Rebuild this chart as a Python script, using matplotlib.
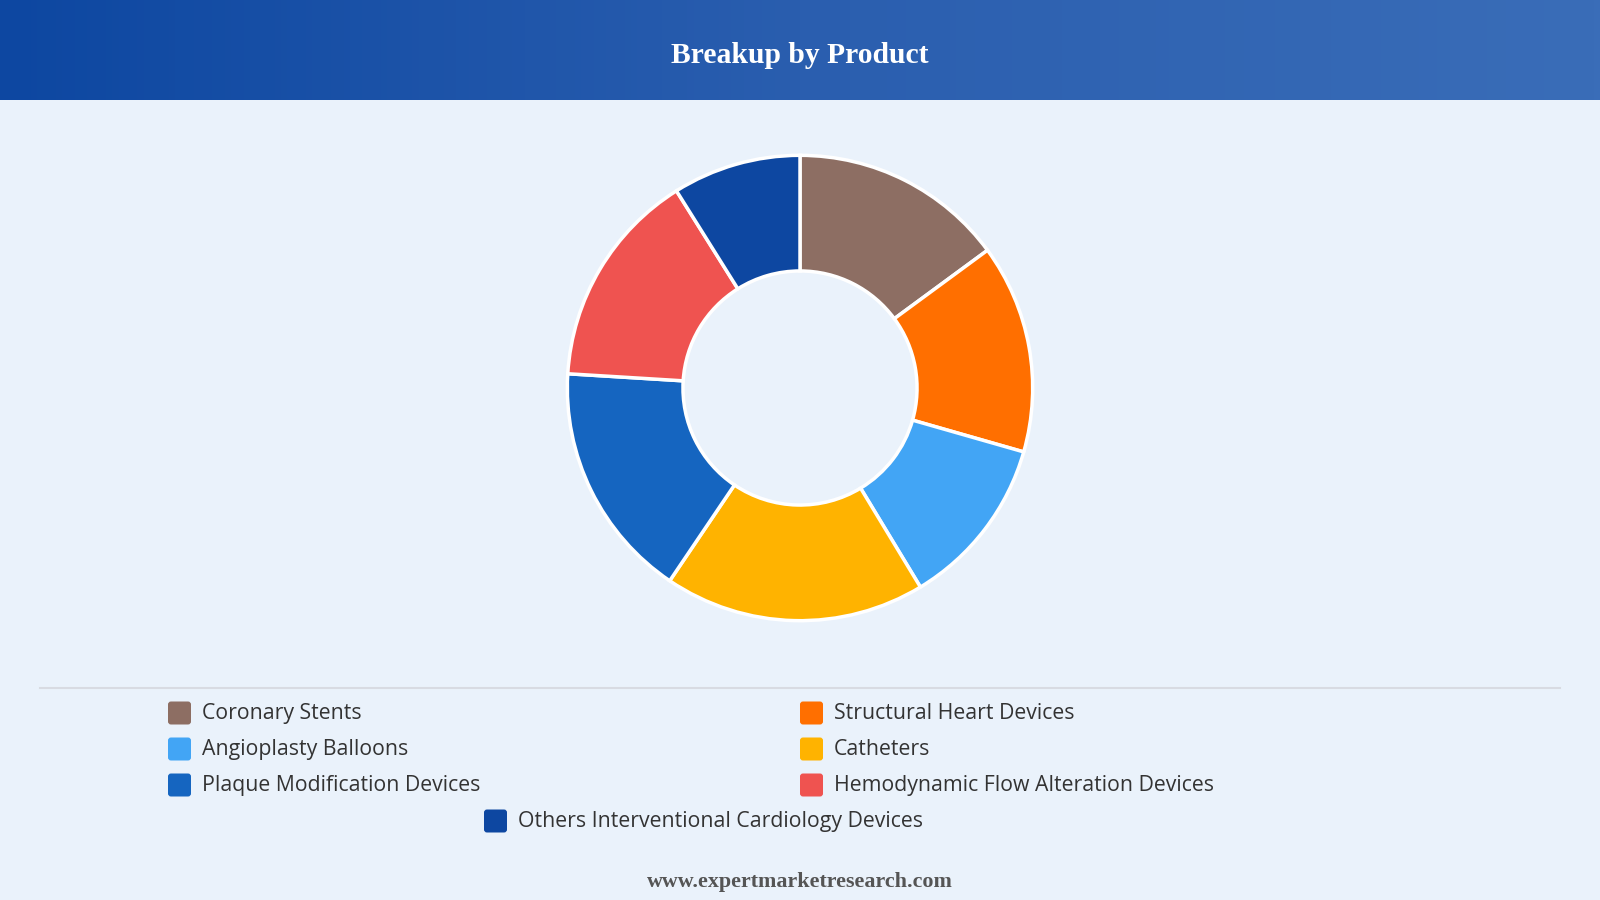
import numpy as np
import matplotlib
matplotlib.use("Agg")
import matplotlib.pyplot as plt
from matplotlib.patches import FancyBboxPatch
from matplotlib.colors import LinearSegmentedColormap

categories = ["Coronary Stents", "Structural Heart Devices", "Angioplasty Balloons",
              "Catheters", "Plaque Modification Devices",
              "Hemodynamic Flow Alteration Devices",
              "Others Interventional Cardiology Devices"]
values = [14.9, 14.5, 11.9, 18.1, 16.5, 15.1, 8.9]
colors = ["#8D6E63", "#FF6F00", "#42A5F5", "#FFB300", "#1565C0", "#EF5350", "#0D47A1"]
title = "Breakup by Product"
footer = "www.expertmarketresearch.com"

W, H = 1600, 900
BG = "#EAF2FB"
fig = plt.figure(figsize=(16, 9), dpi=100, facecolor=BG)

# header gradient
hax = fig.add_axes([0, 1 - 100 / H, 1, 100 / H])
grad = np.linspace(0, 1, 512).reshape(1, -1)
cmap = LinearSegmentedColormap.from_list("hdr", ["#0D47A1", "#2A5EAF", "#3A6DB8"])
hax.imshow(grad, aspect="auto", cmap=cmap, extent=[0, 1, 0, 1])
hax.set_axis_off()
hax.text(0.5, 0.445, title, ha="center", va="center", color="white",
         fontsize=21.3, fontweight="bold", family="Liberation Serif",
         transform=hax.transAxes)

# donut
cx, cy, R = 800, 388, 235
pax = fig.add_axes([(cx - R) / W, (H - cy - R) / H, 2 * R / W, 2 * R / H])
pax.pie(values, colors=colors, startangle=90, counterclock=False, radius=1,
        wedgeprops=dict(width=0.497, edgecolor="white", linewidth=2.5))
pax.set_xlim(-1.01, 1.01)
pax.set_ylim(-1.01, 1.01)
pax.set_aspect("equal")
pax.set_axis_off()

# overlay for legend/footer
oax = fig.add_axes([0, 0, 1, 1], facecolor="none")
oax.set_xlim(0, W)
oax.set_ylim(H, 0)
oax.set_axis_off()
oax.plot([40, 1560], [688, 688], color="#D8DBE2", lw=1.5)

positions = [(168, 713), (800, 713), (168, 749), (800, 749),
             (168, 785), (800, 785), (484, 821)]
for (x, y), lab, c in zip(positions, categories, colors):
    oax.add_patch(FancyBboxPatch((x, y - 11.5), 23, 23,
                                 boxstyle="round,pad=0,rounding_size=3",
                                 facecolor=c, edgecolor="none"))
    oax.text(x + 34, y + 0.5, lab, ha="left", va="center", fontsize=15.3,
             color="#333333", family="Open Sans", fontweight="medium")

oax.text(800, 882, footer, ha="center", va="center", fontsize=15.8,
         fontweight="bold", color="#555555", family="Liberation Serif")

fig.savefig("out.png", dpi=100, facecolor=BG)
